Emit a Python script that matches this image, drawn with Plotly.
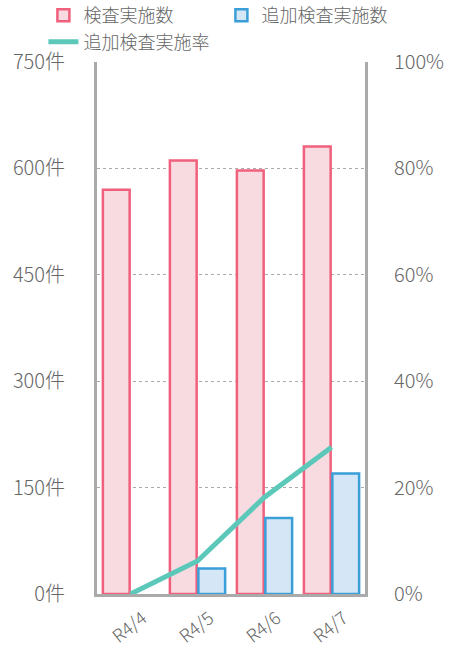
import plotly.graph_objects as go

categories = ["R4/4", "R4/5", "R4/6", "R4/7"]
inspections = [570, 611, 597, 631]
additional = [None, 36, 107, 170]
additional_rate = [0, 6.2, 18.2, 27.6]

y_ticks = [0, 150, 300, 450, 600, 750]
y_ticktext = [f"{v}件" for v in y_ticks]
y2_ticks = [0, 20, 40, 60, 80, 100]
y2_ticktext = [f"{v}%" for v in y2_ticks]

FONT = "Noto Sans CJK JP"
GRAY = "#666666"
AXIS = "#aaaaaa"

fig = go.Figure()
fig.add_trace(go.Bar(
    x=categories, y=inspections, name="検査実施数",
    marker=dict(color="#f8dbe1", line=dict(color="#f0607c", width=2.5)),
))
fig.add_trace(go.Bar(
    x=categories, y=additional, name="追加検査実施数",
    marker=dict(color="#d5e7f6", line=dict(color="#3a9fd8", width=2.5)),
))
fig.add_trace(go.Scatter(
    x=categories, y=additional_rate, name="追加検査実施率", yaxis="y2",
    mode="lines", line=dict(color="#5cc8b9", width=5),
))

axis_font = dict(size=20, color=GRAY, family=FONT, weight=300)

fig.update_layout(
    width=452, height=655,
    margin=dict(l=97, r=87, t=62, b=61, autoexpand=False),
    paper_bgcolor="white", plot_bgcolor="white",
    font=dict(family=FONT, color=GRAY, size=17),
    barmode="group", bargap=0.15, bargroupgap=0.06,
    showlegend=True,
    legend=dict(
        orientation="h", xref="paper", yref="paper",
        x=-0.2, y=1.122, xanchor="left", yanchor="top",
        entrywidth=133, entrywidthmode="pixels",
        bgcolor="rgba(0,0,0,0)",
        font=dict(size=18, color=GRAY, family=FONT, weight=300),
        tracegroupgap=0, itemwidth=30,
    ),
    xaxis=dict(
        showline=True, linecolor=AXIS, linewidth=3,
        tickangle=-38, tickfont=dict(size=18, color=GRAY, family=FONT, weight=300),
        ticks="", ticklabelshift=12, ticklabelstandoff=4,
    ),
    yaxis=dict(
        range=[0, 750], tickvals=y_ticks, ticktext=y_ticktext,
        showline=True, linecolor=AXIS, linewidth=3,
        showgrid=True, gridcolor=AXIS, griddash="dot", gridwidth=1,
        zeroline=False, tickfont=axis_font,
        ticks="", ticklabelstandoff=25,
    ),
    yaxis2=dict(
        range=[0, 100], tickvals=y2_ticks, ticktext=y2_ticktext,
        overlaying="y", side="right",
        showline=True, linecolor=AXIS, linewidth=3,
        showgrid=False, zeroline=False,
        tickfont=axis_font, ticks="", ticklabelstandoff=22,
    ),
)

fig.write_html("out.html")
